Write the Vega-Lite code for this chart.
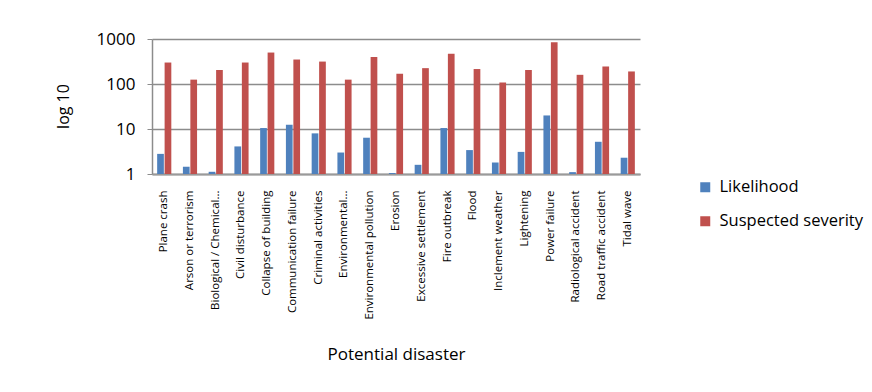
{
  "$schema": "https://vega.github.io/schema/vega-lite/v6.json",
  "autosize": "none",
  "width": 488,
  "height": 135,
  "padding": {"left": 152, "top": 39, "right": 232, "bottom": 218},
  "background": "white",
  "config": {
    "view": {"stroke": null},
    "font": "Open Sans"
  },
  "data": {
    "values": [
      {"disaster": "Plane crash", "series": "Likelihood", "value": 2.8},
      {"disaster": "Plane crash", "series": "Suspected severity", "value": 300},
      {"disaster": "Arson or terrorism", "series": "Likelihood", "value": 1.45},
      {"disaster": "Arson or terrorism", "series": "Suspected severity", "value": 125},
      {"disaster": "Biological / Chemical...", "series": "Likelihood", "value": 1.12},
      {"disaster": "Biological / Chemical...", "series": "Suspected severity", "value": 205},
      {"disaster": "Civil disturbance", "series": "Likelihood", "value": 4.1},
      {"disaster": "Civil disturbance", "series": "Suspected severity", "value": 300},
      {"disaster": "Collapse of building", "series": "Likelihood", "value": 10.5},
      {"disaster": "Collapse of building", "series": "Suspected severity", "value": 500},
      {"disaster": "Communication failure", "series": "Likelihood", "value": 12.5},
      {"disaster": "Communication failure", "series": "Suspected severity", "value": 350},
      {"disaster": "Criminal activities", "series": "Likelihood", "value": 8},
      {"disaster": "Criminal activities", "series": "Suspected severity", "value": 315},
      {"disaster": "Environmental...", "series": "Likelihood", "value": 3.0},
      {"disaster": "Environmental...", "series": "Suspected severity", "value": 125},
      {"disaster": "Environmental pollution", "series": "Likelihood", "value": 6.4},
      {"disaster": "Environmental pollution", "series": "Suspected severity", "value": 400},
      {"disaster": "Erosion", "series": "Likelihood", "value": 1.05},
      {"disaster": "Erosion", "series": "Suspected severity", "value": 170},
      {"disaster": "Excessive settlement", "series": "Likelihood", "value": 1.6},
      {"disaster": "Excessive settlement", "series": "Suspected severity", "value": 225},
      {"disaster": "Fire outbreak", "series": "Likelihood", "value": 10.5},
      {"disaster": "Fire outbreak", "series": "Suspected severity", "value": 470},
      {"disaster": "Flood", "series": "Likelihood", "value": 3.4},
      {"disaster": "Flood", "series": "Suspected severity", "value": 215},
      {"disaster": "Inclement weather", "series": "Likelihood", "value": 1.8},
      {"disaster": "Inclement weather", "series": "Suspected severity", "value": 108},
      {"disaster": "Lightening", "series": "Likelihood", "value": 3.1},
      {"disaster": "Lightening", "series": "Suspected severity", "value": 205},
      {"disaster": "Power failure", "series": "Likelihood", "value": 20},
      {"disaster": "Power failure", "series": "Suspected severity", "value": 850},
      {"disaster": "Radiological accident", "series": "Likelihood", "value": 1.1},
      {"disaster": "Radiological accident", "series": "Suspected severity", "value": 160},
      {"disaster": "Road traffic accident", "series": "Likelihood", "value": 5.2},
      {"disaster": "Road traffic accident", "series": "Suspected severity", "value": 245},
      {"disaster": "Tidal wave", "series": "Likelihood", "value": 2.3},
      {"disaster": "Tidal wave", "series": "Suspected severity", "value": 190}
    ]
  },
  "mark": {"type": "bar"},
  "encoding": {
    "x": {
      "field": "disaster",
      "type": "nominal",
      "sort": null,
      "scale": {"paddingInner": 0.45, "paddingOuter": 0.2},
      "axis": {
        "title": "Potential disaster",
        "titleFont": "Open Sans",
        "titleFontSize": 17,
        "titleFontWeight": "normal",
        "titleColor": "#000000",
        "titleY": 172,
        "titleBaseline": "top",
        "labelAngle": -90,
        "labelAlign": "right",
        "labelBaseline": "middle",
        "labelFontSize": 11.5,
        "labelColor": "#000000",
        "labelPadding": 16,
        "labelLimit": 300,
        "ticks": false,
        "domainColor": "#9a9a9a",
        "domainWidth": 2
      }
    },
    "xOffset": {"field": "series", "type": "nominal", "scale": {"paddingInner": 0.1}},
    "y": {
      "field": "value",
      "type": "quantitative",
      "scale": {"type": "log", "domain": [1, 1000], "nice": false},
      "axis": {
        "title": "log 10",
        "titleFont": "Open Sans",
        "titleFontSize": 16,
        "titleFontWeight": "normal",
        "titleColor": "#000000",
        "titleX": -89,
        "titleY": 67,
        "titleAngle": -90,
        "titleAlign": "center",
        "titleBaseline": "middle",
        "values": [1, 10, 100, 1000],
        "format": "d",
        "labelFontSize": 17,
        "labelColor": "#000000",
        "labelPadding": 12,
        "tickSize": 5,
        "tickColor": "#8c8c8c",
        "domainColor": "#8c8c8c",
        "domainWidth": 1.5,
        "gridColor": "#8c8c8c",
        "gridWidth": 1.5
      }
    },
    "y2": {"datum": 1},
    "color": {
      "field": "series",
      "type": "nominal",
      "scale": {"domain": ["Likelihood", "Suspected severity"], "range": ["#4F81BD", "#C0504D"]},
      "legend": {
        "title": null,
        "orient": "none",
        "legendX": 545,
        "legendY": 140,
        "symbolType": "square",
        "symbolSize": 100,
        "symbolStrokeWidth": 0,
        "labelFontSize": 16.5,
        "labelFont": "Open Sans",
        "labelColor": "#000000",
        "labelOffset": 6,
        "rowPadding": 17
      }
    }
  }
}
